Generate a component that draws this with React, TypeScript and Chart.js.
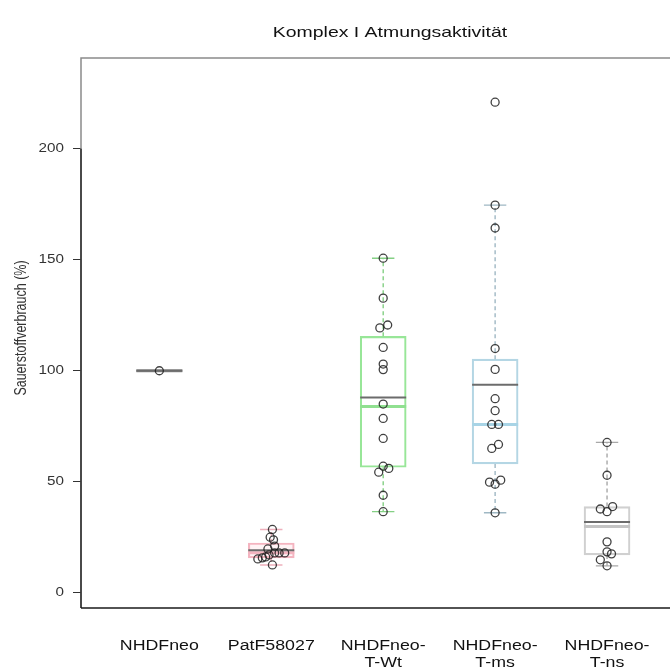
import React, { useEffect, useRef } from 'react';
import { Chart, registerables } from 'chart.js';

Chart.register(...registerables);

// ---------- data ----------
const categories = ['NHDFneo', 'PatF58027', 'NHDFneo-T-Wt', 'NHDFneo-T-ms', 'NHDFneo-T-ns'];
const tickLabels = [['NHDFneo'], ['PatF58027'], ['NHDFneo-', 'T-Wt'], ['NHDFneo-', 'T-ms'], ['NHDFneo-', 'T-ns']];
const yTicks = [0, 50, 100, 150, 200];
const titleText = 'Komplex I Atmungsaktivität';
const yTitleText = 'Sauerstoffverbrauch (%)';

const boxLow = [100, 15.7, 56.5, 58.0, 17.0];
const boxHigh = [100, 22.4, 115.5, 105.2, 38.8];
const medians = [100, 18.0, 83.9, 75.8, 29.8];
const means = [100, 19.1, 87.9, 93.7, 31.8];
const whiskerLow = [100, 12.5, 36.5, 36.0, 12.1];
const whiskerHigh = [100, 28.5, 150.7, 174.6, 67.7];

const pointsNHDFneo = [100];
const jitterNHDFneo = [0];
const pointsPat = [28.5, 25.0, 23.8, 21.0, 19.7, 17.9, 17.9, 17.9, 17.0, 16.1, 15.7, 15.2, 12.5];
const jitterPat = [0.01, -0.01, 0.02, 0.03, -0.03, 0.03, 0.07, 0.12, -0.02, -0.05, -0.08, -0.12, 0.01];
const pointsWt = [150.7, 132.7, 120.6, 119.3, 110.5, 103.0, 100.5, 85.0, 78.5, 69.5, 57.0, 56.0, 54.3, 43.9, 36.5];
const jitterWt = [0, 0, 0.04, -0.03, 0, 0, 0, 0, 0, 0, 0, 0.05, -0.04, 0, 0];
const pointsMs = [221.0, 174.6, 164.3, 110.0, 100.6, 87.4, 82.0, 75.8, 75.8, 66.8, 65.0, 50.7, 49.8, 48.9, 36.0];
const jitterMs = [0, 0, 0, 0, 0, 0, 0, -0.03, 0.03, 0.03, -0.03, 0.05, -0.05, 0, 0];
const pointsNs = [67.7, 52.9, 38.8, 37.7, 36.5, 22.9, 18.4, 17.5, 14.8, 12.1];
const jitterNs = [0, 0, 0.05, -0.06, 0, 0, 0, 0.04, -0.06, 0];

// ---------- styles ----------
const boxBorder = ['#8c8c8c', '#f4b4c0', '#98e698', '#b4d6e4', '#d0d0d0'];
const boxFill = ['rgba(0,0,0,0)', 'rgba(255,190,200,0.18)', 'rgba(0,0,0,0)', 'rgba(0,0,0,0)', 'rgba(0,0,0,0)'];
const medianColor = ['#8c8c8c', '#f4b4c0', '#90e090', '#a8d4e6', '#c4c4c4'];
const whiskerColor = ['#8c8c8c', '#eeb0bc', '#84d084', '#9fb8c4', '#a8a8a8'];
const meanColor = '#6c6c6c';
const BOX_PX = 46;
const CAP_HALF = 0.1;
const TEXT_STRETCH = 1.27;

const X_MIN = 0.3;
const X_MAX = 5.5625;
const Y_MIN = -6.9;
const Y_MAX = 240.9;

const FONT = "'Liberation Sans', Arial, Helvetica, sans-serif";

function buildDatasets() {
  const groupPoints = [pointsNHDFneo, pointsPat, pointsWt, pointsMs, pointsNs];
  const groupJitter = [jitterNHDFneo, jitterPat, jitterWt, jitterMs, jitterNs];
  const half = BOX_PX / 2 / ((670 - 81) / (X_MAX - X_MIN));
  const ds: any[] = [];
  ds.push({
    type: 'bar',
    data: categories.map((_, i) => ({ x: i + 1, y: [boxLow[i], boxHigh[i]] })),
    backgroundColor: boxFill,
    borderColor: boxBorder,
    borderWidth: 1.5,
    borderSkipped: false,
    barThickness: BOX_PX,
    order: 5,
  });
  categories.forEach((_, i) => {
    const c = i + 1;
    ds.push({
      type: 'line',
      data: [
        { x: c, y: boxHigh[i] }, { x: c, y: whiskerHigh[i] }, { x: c, y: null },
        { x: c, y: boxLow[i] }, { x: c, y: whiskerLow[i] },
      ],
      borderColor: whiskerColor[i],
      borderWidth: 1.4,
      borderDash: [4, 3],
      pointRadius: 0,
      spanGaps: false,
      fill: false,
      order: 4,
    });
    ds.push({
      type: 'line',
      data: [
        { x: c - CAP_HALF, y: whiskerHigh[i] }, { x: c + CAP_HALF, y: whiskerHigh[i] }, { x: c, y: null },
        { x: c - CAP_HALF, y: whiskerLow[i] }, { x: c + CAP_HALF, y: whiskerLow[i] },
      ],
      borderColor: whiskerColor[i],
      borderWidth: 1.4,
      pointRadius: 0,
      spanGaps: false,
      fill: false,
      order: 4,
    });
    ds.push({
      type: 'line',
      data: [{ x: c - half, y: medians[i] }, { x: c + half, y: medians[i] }],
      borderColor: medianColor[i],
      borderWidth: 3,
      pointRadius: 0,
      fill: false,
      order: 3,
    });
    ds.push({
      type: 'line',
      data: [{ x: c - half, y: means[i] }, { x: c + half, y: means[i] }],
      borderColor: meanColor,
      borderWidth: 2,
      pointRadius: 0,
      fill: false,
      order: 2,
    });
  });
  ds.push({
    type: 'scatter',
    data: groupPoints.flatMap((vals, g) => vals.map((v, k) => ({ x: g + 1 + groupJitter[g][k], y: v }))),
    pointRadius: 4,
    pointBorderWidth: 1.3,
    borderColor: 'rgba(30,30,30,0.85)',
    backgroundColor: 'rgba(0,0,0,0)',
    pointBackgroundColor: 'rgba(0,0,0,0)',
    pointBorderColor: 'rgba(30,30,30,0.85)',
    showLine: false,
    order: 0,
  });
  return ds;
}

function drawText(ctx: CanvasRenderingContext2D, text: string, x: number, y: number, align: CanvasTextAlign, font: string, color: string, sx: number) {
  ctx.save();
  ctx.font = font;
  ctx.fillStyle = color;
  ctx.textAlign = align;
  ctx.textBaseline = 'middle';
  ctx.translate(x, y);
  ctx.scale(sx, 1);
  ctx.fillText(text, 0, 0);
  ctx.restore();
}

const framePlugin = {
  id: 'framePlugin',
  afterDraw(chart: any) {
    const { ctx, chartArea } = chart;
    const { left, top, right, bottom } = chartArea;
    const x = chart.scales.x;
    const y = chart.scales.y;
    ctx.save();
    // gray frame
    ctx.strokeStyle = '#8a8a8a';
    ctx.lineWidth = 1.5;
    ctx.beginPath();
    ctx.moveTo(left, bottom);
    ctx.lineTo(left, top);
    ctx.lineTo(right, top);
    ctx.stroke();
    // black axis lines
    ctx.strokeStyle = '#1a1a1a';
    ctx.lineWidth = 1.3;
    ctx.beginPath();
    ctx.moveTo(left, y.getPixelForValue(yTicks[yTicks.length - 1]));
    ctx.lineTo(left, bottom);
    ctx.stroke();
    ctx.lineWidth = 1.6;
    ctx.beginPath();
    ctx.moveTo(left, bottom);
    ctx.lineTo(right, bottom);
    ctx.stroke();
    ctx.restore();

    // y tick labels
    yTicks.forEach((v) => {
      drawText(ctx, String(v), 64, y.getPixelForValue(v), 'right', `12px ${FONT}`, '#333', TEXT_STRETCH);
    });
    // x category labels
    tickLabels.forEach((lines, i) => {
      const cx = x.getPixelForValue(i + 1);
      lines.forEach((ln, k) => {
        drawText(ctx, ln, cx, bottom + 38 + k * 17, 'center', `14px ${FONT}`, '#111', TEXT_STRETCH);
      });
    });
    // main title
    drawText(ctx, titleText, 390, 33, 'center', `14.5px ${FONT}`, '#111', 1.34);
    // y title (rotated; stretch applies to glyph height on screen)
    ctx.save();
    ctx.font = `12.5px ${FONT}`;
    ctx.fillStyle = '#333';
    ctx.textAlign = 'center';
    ctx.textBaseline = 'middle';
    ctx.translate(22, 328);
    ctx.scale(TEXT_STRETCH, 1);
    ctx.rotate(-Math.PI / 2);
    ctx.fillText(yTitleText, 0, 0);
    ctx.restore();
  },
};

export default function App() {
  const ref = useRef<HTMLCanvasElement | null>(null);
  useEffect(() => {
    if (!ref.current) return;
    const chart = new Chart(ref.current, {
      type: 'bar',
      data: { datasets: buildDatasets() },
      options: {
        animation: false,
        responsive: false,
        devicePixelRatio: 1,
        layout: { autoPadding: false, padding: { top: 58, left: 0, right: 0, bottom: 0 } },
        plugins: { legend: { display: false }, tooltip: { enabled: false }, title: { display: false } },
        scales: {
          x: {
            type: 'linear',
            min: X_MIN,
            max: X_MAX,
            offset: false,
            grid: { display: false, drawTicks: false },
            border: { display: false },
            afterFit: (s: any) => { s.height = 62; s.paddingLeft = 0; s.paddingRight = 0; },
            afterBuildTicks: (s: any) => { s.ticks = categories.map((_, i) => ({ value: i + 1 })); },
            ticks: { display: false },
          },
          y: {
            type: 'linear',
            min: Y_MIN,
            max: Y_MAX,
            grid: { display: true, drawOnChartArea: false, drawTicks: true, tickLength: 8, color: '#333', lineWidth: 1 },
            border: { display: false },
            afterFit: (s: any) => { s.width = 81; s.paddingTop = 0; s.paddingBottom = 0; },
            afterBuildTicks: (s: any) => { s.ticks = yTicks.map((v) => ({ value: v })); },
            ticks: { display: false },
          },
        },
      },
      plugins: [framePlugin],
    } as any);
    return () => chart.destroy();
  }, []);
  return (
    <div style={{ position: 'fixed', left: 0, top: 0, width: 670, height: 670, background: '#fff' }}>
      <canvas ref={ref} width={670} height={670} style={{ display: 'block', width: 670, height: 670 }} />
    </div>
  );
}
